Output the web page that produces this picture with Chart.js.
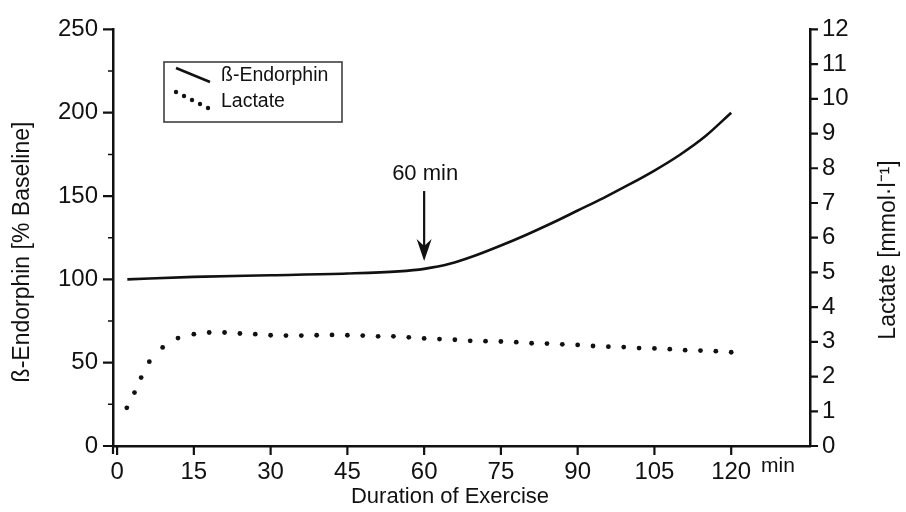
<!DOCTYPE html>
<html>
<head>
<meta charset="utf-8">
<script src="https://cdn.jsdelivr.net/npm/chart.js@4"></script>
<style>
	html, body { margin: 0; padding: 0; background: #fff; }
</style>
</head>
<body>
<canvas id="chart" width="906" height="512"></canvas>
<script>
// x axis (minutes)
const xTicks = [0, 15, 30, 45, 60, 75, 90, 105, 120]
// left axis: beta-endorphin in % of baseline
const yTicks = [0, 50, 100, 150, 200, 250]
const yMinorTicks = [25, 75, 125, 175, 225]
// right axis: lactate mmol/l
const y1Ticks = [0, 1, 2, 3, 4, 5, 6, 7, 8, 9, 10, 11, 12]

const endorphinTime = [2, 15, 30, 45, 55, 60, 65, 70, 75, 80, 85, 90, 95, 100, 105, 110, 115, 120]
const endorphinValue = [100, 101.5, 102.5, 103.5, 104.8, 106.3, 109.3, 114.3, 120.3, 126.8, 133.8, 141.3, 148.8, 156.8, 165.3, 174.8, 186, 200]

const lactateTime = [1.9, 3.4, 4.7, 6.3, 8.9, 11.9, 15, 18, 21, 24, 27, 30, 33, 36, 39, 42, 45, 48, 51, 54, 57, 60,
	63, 66, 69, 72, 75, 78, 81, 84, 87, 90, 93, 96, 99, 102, 105, 108, 111, 114, 117, 120]
const lactateValue = [1.10, 1.54, 1.97, 2.43, 2.84, 3.11, 3.22, 3.27, 3.27, 3.24, 3.22, 3.19, 3.18, 3.18, 3.19, 3.20,
	3.19, 3.18, 3.16, 3.16, 3.13, 3.10, 3.08, 3.06, 3.03, 3.02, 3.01, 2.99, 2.96, 2.95, 2.93, 2.91, 2.88, 2.86, 2.85,
	2.82, 2.81, 2.79, 2.76, 2.75, 2.73, 2.70]

// arrow note at 60 min
const noteTime = 60
const noteText = "60 min"
const noteTextValue = 163.5
const noteArrowFrom = 153
const noteArrowTo = 111

const legendLabels = ["ß-Endorphin", "Lactate"]
const xTitle = "Duration of Exercise"
const yTitle = "ß-Endorphin [% Baseline]"
const y1Title = "Lactate [mmol·l⁻¹]"
const xUnit = "min"

const FONT = '"Liberation Sans", Arial, Helvetica, sans-serif'
const INK = "#111"

const decorPlugin = {
	id: "decor",
	afterDraw(chart) {
		const ctx = chart.ctx
		const area = chart.chartArea
		const x = chart.scales.x
		const y = chart.scales.y
		const y1 = chart.scales.y1
		ctx.save()
		ctx.strokeStyle = INK
		ctx.fillStyle = INK
		ctx.lineCap = "butt"

		//tick marks
		ctx.lineWidth = 2.2
		ctx.beginPath()
		xTicks.forEach(t => {
			const px = x.getPixelForValue(t)
			ctx.moveTo(px, area.bottom)
			ctx.lineTo(px, area.bottom + 9)
		})
		yTicks.forEach(v => {
			const py = y.getPixelForValue(v)
			ctx.moveTo(area.left - 10, py)
			ctx.lineTo(area.left, py)
		})
		y1Ticks.forEach(v => {
			const py = y1.getPixelForValue(v)
			ctx.moveTo(area.right, py)
			ctx.lineTo(area.right + 8, py)
		})
		//left axis runs a bit below the x axis
		ctx.moveTo(area.left, area.bottom)
		ctx.lineTo(area.left, area.bottom + 8)
		ctx.stroke()
		ctx.lineWidth = 1.5
		ctx.beginPath()
		yMinorTicks.forEach(v => {
			const py = y.getPixelForValue(v)
			ctx.moveTo(area.left - 5, py)
			ctx.lineTo(area.left, py)
		})
		ctx.stroke()

		//axis titles
		ctx.font = "22px " + FONT
		ctx.textAlign = "center"
		ctx.textBaseline = "middle"
		ctx.fillText(xTitle, 450, 497)
		ctx.font = "21px " + FONT
		ctx.textAlign = "left"
		ctx.fillText(xUnit, 761, 466)
		ctx.font = "23px " + FONT
		ctx.textAlign = "center"
		ctx.save()
		ctx.translate(23, 252)
		ctx.rotate(-Math.PI / 2)
		ctx.fillText(yTitle, 0, 0)
		ctx.restore()
		ctx.save()
		ctx.translate(889, 250)
		ctx.rotate(-Math.PI / 2)
		ctx.fillText(y1Title, 0, 0)
		ctx.restore()

		//arrow + note
		const ax = x.getPixelForValue(noteTime)
		const aTop = y.getPixelForValue(noteArrowFrom)
		const aTip = y.getPixelForValue(noteArrowTo)
		ctx.lineWidth = 2.2
		ctx.beginPath()
		ctx.moveTo(ax, aTop)
		ctx.lineTo(ax, aTip - 15)
		ctx.stroke()
		ctx.beginPath()
		ctx.moveTo(ax - 7.5, aTip - 22)
		ctx.lineTo(ax, aTip - 15)
		ctx.lineTo(ax + 7.5, aTip - 22)
		ctx.lineTo(ax, aTip)
		ctx.closePath()
		ctx.fill()
		ctx.font = "22px " + FONT
		ctx.textAlign = "center"
		ctx.fillText(noteText, ax + 1, y.getPixelForValue(noteTextValue))

		//legend
		ctx.lineWidth = 1.5
		ctx.strokeStyle = "#333"
		ctx.strokeRect(164, 62, 178, 60)
		ctx.strokeStyle = INK
		ctx.lineWidth = 2.5
		ctx.beginPath()
		ctx.moveTo(176, 68)
		ctx.lineTo(210, 82)
		ctx.stroke()
		const dots = [[176, 92], [184, 96], [192, 100], [200, 104], [208, 108]]
		dots.forEach(d => {
			ctx.beginPath()
			ctx.arc(d[0], d[1], 2.2, 0, Math.PI * 2)
			ctx.fill()
		})
		ctx.font = "19.5px " + FONT
		ctx.textAlign = "left"
		ctx.fillText(legendLabels[0], 221, 76)
		ctx.fillText(legendLabels[1], 221, 102)
		ctx.restore()
	}
}

const tickFont = { family: FONT, size: 24 }

const chart = new Chart("chart", {
	type: "scatter",
	data: {
		datasets: [{
			label: legendLabels[0],
			data: endorphinTime.map((t, i) => ({ x: t, y: endorphinValue[i] })),
			showLine: true,
			borderColor: INK,
			borderWidth: 2.6,
			pointRadius: 0,
			cubicInterpolationMode: "monotone",
			yAxisID: "y"
		}, {
			label: legendLabels[1],
			data: lactateTime.map((t, i) => ({ x: t, y: lactateValue[i] })),
			showLine: false,
			backgroundColor: INK,
			borderColor: INK,
			pointRadius: 2.4,
			pointBorderWidth: 0,
			yAxisID: "y1"
		}]
	},
	options: {
		responsive: false,
		animation: false,
		layout: { padding: { top: 24, left: 0, right: 0, bottom: 0 } },
		plugins: {
			legend: { display: false },
			tooltip: { enabled: false }
		},
		scales: {
			x: {
				type: "linear",
				min: -0.8,
				max: 135.4,
				afterBuildTicks: s => { s.ticks = xTicks.map(v => ({ value: v })) },
				afterFit: s => { s.height = 66 },
				grid: { display: false, drawTicks: false },
				border: { display: true, color: INK, width: 2.5 },
				ticks: { font: tickFont, color: INK, padding: 12, autoSkip: false, maxRotation: 0 }
			},
			y: {
				position: "left",
				min: 0,
				max: 250,
				afterBuildTicks: s => { s.ticks = yTicks.map(v => ({ value: v })) },
				afterFit: s => { s.width = 113 },
				grid: { display: false, drawTicks: false },
				border: { display: true, color: INK, width: 2.5 },
				ticks: { font: tickFont, color: INK, padding: 15 }
			},
			y1: {
				position: "right",
				min: 0,
				max: 12,
				afterBuildTicks: s => { s.ticks = y1Ticks.map(v => ({ value: v })) },
				afterFit: s => { s.width = 96 },
				grid: { display: false, drawTicks: false },
				border: { display: true, color: INK, width: 2.5 },
				ticks: { font: tickFont, color: INK, padding: 12, autoSkip: false }
			}
		}
	},
	plugins: [decorPlugin]
})
</script>
</body>
</html>
